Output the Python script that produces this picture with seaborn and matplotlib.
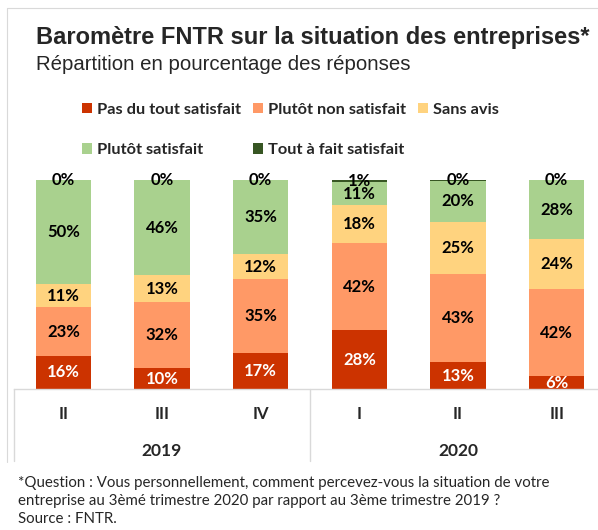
import numpy as np
import pandas as pd
import matplotlib.pyplot as plt
import seaborn as sns
from matplotlib.patches import Patch
from matplotlib.lines import Line2D

# Données du baromètre
periodes = ["2019 II", "2019 III", "2019 IV", "2020 I", "2020 II", "2020 III"]
trimestres = ["II", "III", "IV", "I", "II", "III"]
annees = ["2019", "2020"]
reponses = ["Pas du tout satisfait", "Plutôt non satisfait", "Sans avis",
            "Plutôt satisfait", "Tout à fait satisfait"]
pas_du_tout = [16, 10, 17, 28, 13, 6]
plutot_non = [23, 32, 35, 42, 43, 42]
sans_avis = [11, 13, 12, 18, 25, 24]
plutot_sat = [50, 46, 35, 11, 20, 28]
tout_a_fait = [0, 0, 0, 1, 0.4, 0.2]
couleurs = ["#CC3300", "#FF9966", "#FFD37F", "#A9D18E", "#375623"]

sns.set_theme(style="white")
plt.rcParams["font.family"] = ["Lato", "DejaVu Sans"]

df = pd.DataFrame({"periode": periodes,
                   reponses[0]: pas_du_tout, reponses[1]: plutot_non,
                   reponses[2]: sans_avis, reponses[3]: plutot_sat,
                   reponses[4]: tout_a_fait})

# parts ramenées à 100 pour que toutes les barres touchent le haut
parts = df[reponses].div(df[reponses].sum(axis=1), axis=0) * 100
cumul = parts.cumsum(axis=1)

fig = plt.figure(figsize=(5.98, 5.30), dpi=100)
ax = fig.add_axes([14 / 598, 141 / 530, 592 / 598, 209 / 530])

# empilement : on dessine du cumul le plus haut vers le plus bas
for rep, coul in reversed(list(zip(reponses, couleurs))):
    sns.barplot(x=df["periode"], y=cumul[rep], color=coul, width=0.56,
                saturation=1, linewidth=0, ax=ax)

for i in range(len(periodes)):
    for j, rep in enumerate(reponses):
        y = cumul[rep][i] - parts[rep][i] / 2
        ax.text(i, y, f"{df[rep][i]:.0f}%", ha="center", va="center",
                fontsize=12, fontweight="bold",
                color="white" if j == 0 else "black", clip_on=(j == 0))

ax.set_xlim(-0.5, 5.5)
ax.set_ylim(0, 100)
ax.set_xticks([])
ax.set_yticks([])
ax.set_xlabel("")
ax.set_ylabel("")
for s in ["left", "right", "top"]:
    ax.spines[s].set_visible(False)
ax.spines["bottom"].set_color("#D9D9D9")
ax.spines["bottom"].set_linewidth(1)

# axe des catégories à deux niveaux
trans = ax.get_xaxis_transform()
for x in [-0.5, 2.5, 5.5]:
    ax.plot([x, x], [0, -0.344], transform=trans, clip_on=False,
            color="#D9D9D9", lw=1)
for i, q in enumerate(trimestres):
    ax.text(i, -0.12, q, transform=trans, ha="center", va="center",
            fontsize=12, fontweight="bold")
for i, a in zip([1, 4], annees):
    ax.text(i, -0.295, a, transform=trans, ha="center", va="center",
            fontsize=12.5, fontweight="bold")

# légende sur deux lignes
poignees = [Patch(facecolor=c, edgecolor="none") for c in couleurs]
ordre = [0, 3, 1, 4, 2]
fig.legend([poignees[k] for k in ordre], [reponses[k] for k in ordre],
           ncol=3, loc="upper left", bbox_to_anchor=(82 / 598, 1 - 103 / 530),
           frameon=False, borderpad=0, borderaxespad=0,
           handlelength=0.6, handleheight=0.6, handletextpad=0.3,
           columnspacing=0.75, labelspacing=1.6,
           prop={"weight": "bold", "size": 11.8})

fig.text(36 / 598, 1 - 44 / 530, "Baromètre FNTR sur la situation des entreprises*",
         fontsize=17, fontweight="bold", family="Liberation Sans", va="baseline")
fig.text(36 / 598, 1 - 70 / 530, "Répartition en pourcentage des réponses",
         fontsize=14.7, family="Liberation Sans", va="baseline")

fig.text(18 / 598, 1 - 483 / 530,
         "*Question : Vous personnellement, comment percevez-vous la situation de votre",
         fontsize=10.8, va="center")
fig.text(18 / 598, 1 - 501 / 530,
         "entreprise au 3èmé trimestre 2020 par rapport au 3ème trimestre 2019 ?",
         fontsize=10.8, va="center")
fig.text(18 / 598, 1 - 519 / 530, "Source : FNTR.", fontsize=10.8, va="center")

# cadre gris clair autour du graphique
fig.add_artist(Line2D([7 / 598, 1], [1 - 8 / 530, 1 - 8 / 530], color="#D9D9D9", lw=0.8))
fig.add_artist(Line2D([7 / 598, 7 / 598], [1 - 8 / 530, 1 - 462 / 530], color="#D9D9D9", lw=0.8))

fig.savefig("out.png", dpi=100)
